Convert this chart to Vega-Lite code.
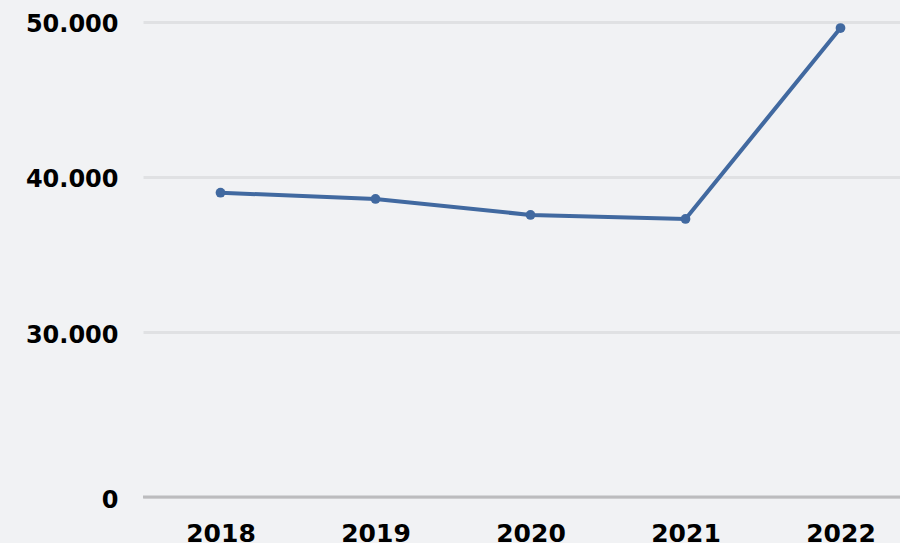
{
  "$schema": "https://vega.github.io/schema/vega-lite/v6.json",
  "autosize": {"type": "none"},
  "padding": {"left": 143, "top": 0, "right": 0, "bottom": 46},
  "width": 775,
  "height": 497,
  "background": "#f1f2f4",
  "config": {
    "view": {"stroke": null, "fill": "#f1f2f4"},
    "axis": {"labelFont": "DejaVu Sans", "labelFontWeight": "bold", "labelColor": "#000000", "labelFontSize": 24}
  },
  "data": {"values": [
    {"year": "2018", "value": 38970},
    {"year": "2019", "value": 38570},
    {"year": "2020", "value": 37540},
    {"year": "2021", "value": 37280},
    {"year": "2022", "value": 49580}
  ]},
  "layer": [
    {
      "mark": {"type": "line", "color": "#4169a0", "strokeWidth": 4, "point": {"filled": true, "size": 95, "color": "#4169a0"}},
      "encoding": {
        "x": {"field": "year", "type": "ordinal", "scale": {"type": "point", "padding": 0.5},
          "axis": {"title": null, "domain": false, "ticks": false, "labelAngle": 0, "labelPadding": 24, "labelBaseline": "top", "labelFontSize": 25, "grid": false}},
        "y": {"field": "value", "type": "quantitative",
          "scale": {"domain": [0, 30000, 50000], "range": [497, 332, 21.5]},
          "axis": {"title": null, "domain": false, "ticks": false, "values": [30000, 40000, 50000, 0],
            "labelExpr": "datum.value == 0 ? '0' : format(datum.value / 1000, 'd') + '.000'",
            "labelPadding": 25, "labelOffset": 3,
            "grid": true, "gridColor": "#e0e1e3", "gridWidth": 3}}
      }
    },
    {
      "mark": {"type": "rule", "color": "#bcbcbe", "strokeWidth": 3},
      "data": {"values": [{"value": 0}]},
      "encoding": {"y": {"field": "value", "type": "quantitative"}}
    }
  ]
}
